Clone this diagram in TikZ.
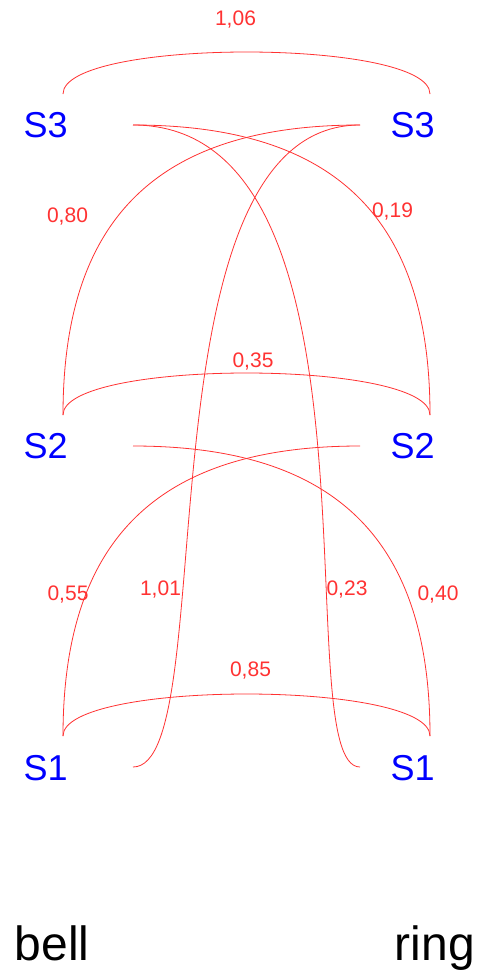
\documentclass[tikz,border=0pt]{standalone}
\usepackage{fontspec}
\setmainfont{Liberation Sans}
\definecolor{lred}{RGB}{255,50,50}
\definecolor{sblue}{RGB}{0,0,255}
\begin{document}
\begin{tikzpicture}[x=1pt,y=-1pt,
  statelab/.style={text=sblue,inner sep=0pt,anchor=base west,font=\fontsize{36}{40}\selectfont},
  wordlab/.style={text=black,inner sep=0pt,anchor=base west,font=\fontsize{48}{54}\selectfont},
  problab/.style={text=lred,inner sep=0pt,anchor=base,font=\fontsize{21}{24}\selectfont},
  link/.style={draw=lred,line width=0.8pt}]
\fill[white] (0,0) rectangle (485,970);
\useasboundingbox (0,0) rectangle (485,970);
% state labels
\node[statelab] (s3l) at (23.5,137) {S3};
\node[statelab] (s3r) at (390.3,137) {S3};
\node[statelab] (s2l) at (23.5,458.3) {S2};
\node[statelab] (s2r) at (390.3,458.3) {S2};
\node[statelab] (s1l) at (23.5,780) {S1};
\node[statelab] (s1r) at (390.3,780) {S1};
\node[wordlab] (bell) at (14.5,960) {bell};
\node[wordlab] (ring) at (394.5,960) {ring};
% attachment points
\coordinate (L3) at (63,94);
\coordinate (R3) at (430,94);
\coordinate (I3L) at (133,125);
\coordinate (I3R) at (360,125);
\coordinate (L2) at (63,415);
\coordinate (R2) at (430,415);
\coordinate (I2L) at (133,446);
\coordinate (I2R) at (360,446);
\coordinate (L1) at (63,736);
\coordinate (R1) at (430,736);
\coordinate (I1L) at (133,767);
\coordinate (I1R) at (360,767);
% arcs
\draw[link] (L3) .. controls +(0,-56) and +(0,-56) .. (R3);
\draw[link] (L2) .. controls +(0,-56) and +(0,-56) .. (R2);
\draw[link] (L1) .. controls +(0,-56) and +(0,-56) .. (R1);
\draw[link] (I3L) .. controls +(202,0) and +(0,-197) .. (R2);
\draw[link] (I3R) .. controls +(-202,0) and +(0,-197) .. (L2);
\draw[link] (I2L) .. controls +(202,0) and +(0,-197) .. (R1);
\draw[link] (I2R) .. controls +(-202,0) and +(0,-197) .. (L1);
\draw[link] (I3L) .. controls +(265,0) and +(-75,0) .. (I1R);
\draw[link] (I3R) .. controls +(-226.7,0) and +(91,0) .. (I1L);
% probabilities
\node[problab] (p106) at (235.5,25.7) {1,06};
\node[problab] (p080) at (67.5,222.3) {0,80};
\node[problab] (p019) at (392.5,217.3) {0,19};
\node[problab] (p035) at (253,367.3) {0,35};
\node[problab] (p101) at (160.5,595) {1,01};
\node[problab] (p055) at (68,600) {0,55};
\node[problab] (p023) at (347,595) {0,23};
\node[problab] (p040) at (438,600) {0,40};
\node[problab] (p085) at (250.5,676.7) {0,85};
\end{tikzpicture}
\end{document}
